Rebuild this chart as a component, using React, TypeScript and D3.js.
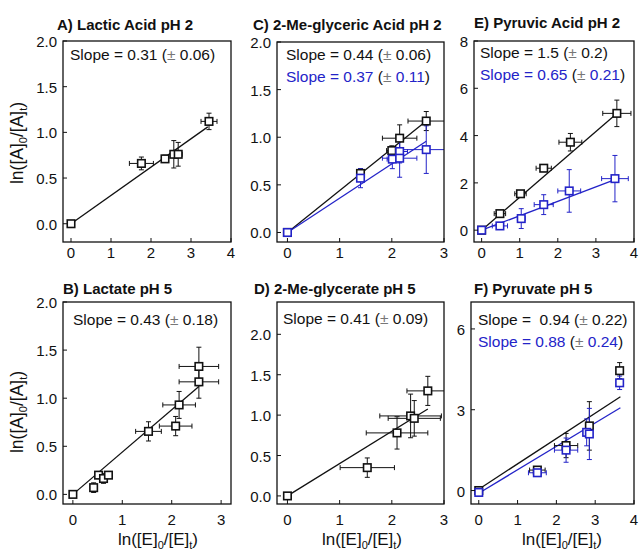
import * as React from 'react';
import * as d3 from 'd3';

// [x, y, xErr, yErr]
type Pt = [number, number, number, number];

const lacticPH2: Pt[] = [
  [0, 0, 0.03, 0.02], [1.76, 0.66, 0.3, 0.07], [2.35, 0.71, 0.06, 0.04],
  [2.57, 0.76, 0.08, 0.15], [2.68, 0.76, 0.1, 0.13], [3.45, 1.12, 0.2, 0.09],
];
const lactatePH5: Pt[] = [
  [0, 0, 0.03, 0.02], [0.42, 0.07, 0.03, 0.05], [0.52, 0.2, 0.05, 0.03],
  [0.62, 0.165, 0.05, 0.05], [0.72, 0.2, 0.06, 0.03], [1.53, 0.655, 0.26, 0.1],
  [2.08, 0.71, 0.33, 0.1], [2.15, 0.93, 0.33, 0.14], [2.55, 1.17, 0.4, 0.17],
  [2.55, 1.33, 0.4, 0.2],
];
const meGlycericBlack: Pt[] = [
  [0, 0, 0.03, 0.02], [1.4, 0.62, 0.05, 0.05], [2.0, 0.86, 0.1, 0.05],
  [2.15, 0.99, 0.33, 0.14], [2.66, 1.17, 0.35, 0.1],
];
const meGlycericBlue: Pt[] = [
  [0, 0, 0.03, 0.02], [1.4, 0.57, 0.05, 0.1], [2.01, 0.77, 0.1, 0.1],
  [2.15, 0.85, 0.15, 0.12], [2.15, 0.78, 0.33, 0.2], [2.66, 0.87, 0.45, 0.25],
];
const meGlyceratePH5: Pt[] = [
  [0, 0, 0.03, 0.02], [1.53, 0.35, 0.52, 0.12], [2.1, 0.78, 0.59, 0.2],
  [2.36, 0.99, 0.59, 0.27], [2.43, 0.96, 0.5, 0.22], [2.69, 1.3, 0.4, 0.18],
];
const pyruvicBlack: Pt[] = [
  [0, 0, 0.03, 0.05], [0.48, 0.7, 0.15, 0.1], [1.02, 1.54, 0.15, 0.1],
  [1.63, 2.62, 0.2, 0.1], [2.33, 3.72, 0.3, 0.37], [3.55, 4.94, 0.37, 0.56],
];
const pyruvicBlue: Pt[] = [
  [0, 0, 0.03, 0.05], [0.48, 0.18, 0.2, 0.05], [1.04, 0.49, 0.1, 0.42],
  [1.63, 1.08, 0.25, 0.42], [2.3, 1.66, 0.3, 0.9], [3.5, 2.18, 0.35, 0.98],
];
const pyruvateBlack: Pt[] = [
  [0, 0, 0.03, 0.05], [1.51, 0.76, 0.2, 0.1], [2.25, 1.67, 0.3, 0.45],
  [2.85, 2.4, 0.05, 0.9], [3.63, 4.45, 0.03, 0.3],
];
const pyruvateBlue: Pt[] = [
  [0, -0.07, 0.03, 0.05], [1.51, 0.66, 0.23, 0.1], [2.25, 1.5, 0.3, 0.45],
  [2.78, 2.16, 0.05, 0.5], [2.85, 2.1, 0.05, 0.95], [3.63, 4.0, 0.03, 0.25],
];

// fitted lines: [slope, intercept, xStart, xEnd]
type Fit = [number, number, number, number];

const ticks05 = [0, 0.5, 1, 1.5, 2];
const ticks0to4 = [0, 1, 2, 3, 4];
const ticks0to3 = [0, 1, 2, 3];

const BLACK = '#111';
const BLUE = '#2323c8';
const FONT = '"Liberation Sans", Arial, Helvetica, sans-serif';

type Series = { pts: Pt[]; fit: Fit; color: string; slope: string; err: string };
type Panel = {
  title: string; titleX: number; titleY: number;
  box: [number, number, number, number];
  xDomain: [number, number]; yDomain: [number, number];
  xTicks: number[]; yTicks: number[]; yFmt: string;
  series: Series[];
  textX: number; textY: number;
  xLabelX?: number; yLabelY?: number;
};

const panels: Panel[] = [
  {
    title: 'A) Lactic Acid pH 2', titleX: 57, titleY: 30, box: [63, 41, 231, 242],
    xDomain: [-0.2, 4], yDomain: [-0.2, 2], xTicks: ticks0to4, yTicks: ticks05, yFmt: '.1f',
    series: [{ pts: lacticPH2, fit: [0.31, 0, 0, 3.42], color: BLACK, slope: 'Slope = 0.31', err: '0.06' }],
    textX: 70, textY: 60, yLabelY: 143,
  },
  {
    title: 'B) Lactate pH 5', titleX: 63, titleY: 294, box: [63, 302, 231, 504],
    xDomain: [-0.2, 3.2], yDomain: [-0.1, 2], xTicks: ticks0to3, yTicks: ticks05, yFmt: '.1f',
    series: [{ pts: lactatePH5, fit: [0.44, 0, 0, 2.55], color: BLACK, slope: 'Slope = 0.43', err: '0.18' }],
    textX: 73, textY: 325, xLabelX: 158, yLabelY: 412,
  },
  {
    title: 'C) 2-Me-glyceric Acid pH 2', titleX: 253, titleY: 30, box: [277, 42, 444, 242],
    xDomain: [-0.2, 3], yDomain: [-0.1, 2], xTicks: ticks0to3, yTicks: ticks05, yFmt: '.1f',
    series: [
      { pts: meGlycericBlack, fit: [0.44, 0, 0, 2.66], color: BLACK, slope: 'Slope = 0.44', err: '0.06' },
      { pts: meGlycericBlue, fit: [0.36, 0, 0, 2.66], color: BLUE, slope: 'Slope = 0.37', err: '0.11' },
    ],
    textX: 286, textY: 60,
  },
  {
    title: 'D) 2-Me-glycerate pH 5', titleX: 254, titleY: 294, box: [277, 302, 444, 504],
    xDomain: [-0.2, 3], yDomain: [-0.1, 2.4], xTicks: ticks0to3, yTicks: ticks05, yFmt: '.1f',
    series: [{ pts: meGlyceratePH5, fit: [0.4, 0, 0, 2.69], color: BLACK, slope: 'Slope = 0.41', err: '0.09' }],
    textX: 283, textY: 324, xLabelX: 362,
  },
  {
    title: 'E) Pyruvic Acid pH 2', titleX: 474, titleY: 28, box: [474, 41, 634, 242],
    xDomain: [-0.2, 4], yDomain: [-0.5, 8], xTicks: ticks0to4, yTicks: [0, 2, 4, 6, 8], yFmt: 'd',
    series: [
      { pts: pyruvicBlack, fit: [1.39, 0, 0, 3.48], color: BLACK, slope: 'Slope = 1.5', err: '0.2' },
      { pts: pyruvicBlue, fit: [0.61, 0, 0, 3.5], color: BLUE, slope: 'Slope = 0.65', err: '0.21' },
    ],
    textX: 480, textY: 58,
  },
  {
    title: 'F) Pyruvate pH 5', titleX: 474, titleY: 294, box: [471, 302, 634, 504],
    xDomain: [-0.2, 4], yDomain: [-0.5, 7], xTicks: ticks0to4, yTicks: [0, 3, 6], yFmt: 'd',
    series: [
      { pts: pyruvateBlack, fit: [0.94, 0.05, 0, 3.65], color: BLACK, slope: 'Slope =  0.94', err: '0.22' },
      { pts: pyruvateBlue, fit: [0.87, -0.1, 0, 3.65], color: BLUE, slope: 'Slope = 0.88', err: '0.24' },
    ],
    textX: 478, textY: 325, xLabelX: 562,
  },
];

function PanelView({ p, i }: { p: Panel; i: number }) {
  const [l, t, r, b] = p.box;
  const x = d3.scaleLinear().domain(p.xDomain).range([l, r]);
  const y = d3.scaleLinear().domain(p.yDomain).range([b, t]);
  const fmt = d3.format(p.yFmt);
  const line = d3.line<number>().x(d => x(d[0])).y(d => y(d[1]));
  const clipId = `clip${i}`;
  const cap = 2.5;
  const sq = 7.5;
  const tickLabelY = b + (t < 100 ? 16 : 21);
  return (
    <g>
      <defs>
        <clipPath id={clipId}><rect x={l} y={t} width={r - l} height={b - t} /></clipPath>
      </defs>
      <text x={p.titleX} y={p.titleY} fontSize={15} fontWeight="bold" fill={BLACK}>{p.title}</text>
      <g clipPath={`url(#${clipId})`}>
        {p.series.map((s, k) => {
          const [m, c, x0, x1] = s.fit;
          return (
            <path key={'f' + k} d={line([[x0, m * x0 + c], [x1, m * x1 + c]] as any) || ''}
              stroke={s.color} strokeWidth={1.3} fill="none" />
          );
        })}
        {p.series.map((s, k) => (
          <g key={'e' + k} stroke={s.color} strokeWidth={1}>
            {s.pts.map((d, j) => {
              const cx = x(d[0]), cy = y(d[1]);
              const xa = x(d[0] - d[2]), xb = x(d[0] + d[2]);
              const ya = y(d[1] + d[3]), yb = y(d[1] - d[3]);
              return (
                <g key={j}>
                  <line x1={xa} x2={xb} y1={cy} y2={cy} />
                  <line x1={xa} x2={xa} y1={cy - cap} y2={cy + cap} />
                  <line x1={xb} x2={xb} y1={cy - cap} y2={cy + cap} />
                  <line x1={cx} x2={cx} y1={ya} y2={yb} />
                  <line x1={cx - cap} x2={cx + cap} y1={ya} y2={ya} />
                  <line x1={cx - cap} x2={cx + cap} y1={yb} y2={yb} />
                </g>
              );
            })}
          </g>
        ))}
        {p.series.map((s, k) => (
          <g key={'m' + k}>
            {s.pts.map((d, j) => (
              <rect key={j} x={x(d[0]) - sq / 2} y={y(d[1]) - sq / 2} width={sq} height={sq}
                fill="#fff" stroke={s.color} strokeWidth={1.6} />
            ))}
          </g>
        ))}
      </g>
      <rect x={l} y={t} width={r - l} height={b - t} fill="none" stroke={BLACK} strokeWidth={1.3} />
      {p.xTicks.map(v => (
        <g key={'xt' + v}>
          <line x1={x(v)} x2={x(v)} y1={b} y2={b - 4} stroke={BLACK} />
          <text x={x(v)} y={tickLabelY} fontSize={15} textAnchor="middle" fill={BLACK}>{v}</text>
        </g>
      ))}
      {p.yTicks.map(v => (
        <g key={'yt' + v}>
          <line x1={l} x2={l + 4} y1={y(v)} y2={y(v)} stroke={BLACK} />
          <text x={l - 6} y={y(v) + 6} fontSize={15} textAnchor="end" fill={BLACK}>{fmt(v)}</text>
        </g>
      ))}
      {p.series.map((s, k) => (
        <text key={'s' + k} x={p.textX} y={p.textY + k * 22} fontSize={15.5} style={{ whiteSpace: 'pre' }}>
          <tspan fill={s.color}>{s.slope + ' '}</tspan>
          <tspan fill={BLACK}>(</tspan>
          <tspan fill="#777">±</tspan>
          <tspan fill={s.color}>{' ' + s.err}</tspan>
          <tspan fill={BLACK}>)</tspan>
        </text>
      ))}
      {p.xLabelX !== undefined && (
        <text x={p.xLabelX} y={545} fontSize={17} textAnchor="middle" fill={BLACK}>
          ln([E]<tspan dy={4} fontSize={11}>0</tspan><tspan dy={-4}>/[E]</tspan>
          <tspan dy={4} fontSize={11}>t</tspan><tspan dy={-4}>)</tspan>
        </text>
      )}
      {p.yLabelY !== undefined && (
        <text transform={`translate(23,${p.yLabelY}) rotate(-90)`} fontSize={17.5} textAnchor="middle" fill={BLACK}>
          ln([A]<tspan dy={4} fontSize={11}>0</tspan><tspan dy={-4}>/[A]</tspan>
          <tspan dy={4} fontSize={11}>t</tspan><tspan dy={-4}>)</tspan>
        </text>
      )}
    </g>
  );
}

export default function App() {
  return (
    <svg width={640} height={552} style={{ position: 'absolute', left: 0, top: 0, fontFamily: FONT }}>
      <rect width={640} height={552} fill="#fff" />
      {panels.map((p, i) => <PanelView key={i} p={p} i={i} />)}
    </svg>
  );
}
